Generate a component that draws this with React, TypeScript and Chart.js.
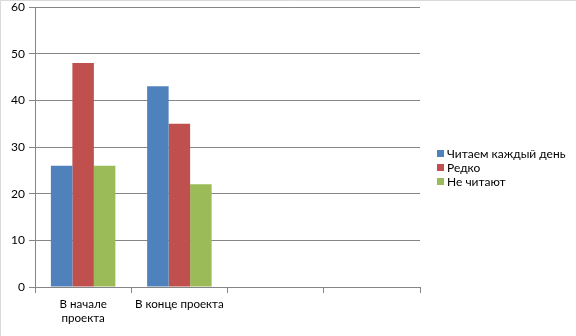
import React, { useEffect, useRef } from "react";
import { Chart, registerables } from "chart.js";

Chart.register(...registerables);

const categories: (string | string[])[] = [["В начале", "проекта"], "В конце проекта", "", ""];
const seriesNames = ["Читаем каждый день", "Редко", "Не читают"];
const dailyValues = [26, 43, null, null];
const rarelyValues = [48, 35, null, null];
const neverValues = [26, 22, null, null];
const seriesColors = ["#4F81BD", "#C0504D", "#9BBB59"];
const yTicks = { min: 0, max: 60, step: 10 };

const FONT = "Lato";
const GRID = "#868686";

const legendPlugin = {
  id: "customLegend",
  afterDraw(chart: any) {
    const ctx = chart.ctx;
    const ds = chart.data.datasets;
    const spacing = 14;
    const centerY = 167.5;
    const startY = centerY - ((ds.length - 1) * spacing) / 2;
    ctx.save();
    ctx.font = `12px ${FONT}`;
    ctx.textBaseline = "middle";
    ctx.textAlign = "left";
    ds.forEach((d: any, i: number) => {
      const y = startY + i * spacing;
      ctx.fillStyle = d.backgroundColor;
      ctx.fillRect(437, Math.round(y - 3.5), 7, 7);
      ctx.fillStyle = "#000";
      ctx.fillText(d.label, 447, y + 0.5);
    });
    ctx.restore();
  },
};

const borderPlugin = {
  id: "frame",
  beforeDraw(chart: any) {
    const ctx = chart.ctx;
    ctx.save();
    ctx.fillStyle = "#fff";
    ctx.fillRect(0, 0, chart.width, chart.height);
    ctx.strokeStyle = "#D9D9D9";
    ctx.lineWidth = 1;
    ctx.beginPath();
    ctx.moveTo(0.5, chart.height);
    ctx.lineTo(0.5, 0.5);
    ctx.lineTo(chart.width, 0.5);
    ctx.stroke();
    ctx.restore();
  },
};

export default function App() {
  const ref = useRef<HTMLCanvasElement>(null);
  useEffect(() => {
    document.body.style.margin = "0";
    const values = [dailyValues, rarelyValues, neverValues];
    const chart = new Chart(ref.current!, {
      type: "bar",
      data: {
        labels: categories,
        datasets: seriesNames.map((name, i) => ({
          label: name,
          data: values[i],
          backgroundColor: seriesColors[i],
          borderWidth: 0,
          barPercentage: 1,
          categoryPercentage: 0.67,
        })),
      },
      options: {
        animation: false,
        responsive: false,
        maintainAspectRatio: false,
        layout: { padding: { top: 7, right: 156, left: 0, bottom: 0 } },
        plugins: {
          legend: { display: false },
          tooltip: { enabled: false },
        },
        scales: {
          x: {
            grid: {
              display: true,
              drawOnChartArea: false,
              drawTicks: true,
              tickLength: 6,
              color: GRID,
              offset: true,
            },
            border: { display: true, color: GRID, width: 1 },
            ticks: {
              color: "#000",
              font: { family: FONT, size: 11.6 },
              maxRotation: 0,
              autoSkip: false,
              padding: 4,
            },
            afterFit: (scale: any) => {
              scale.height = 49;
            },
          },
          y: {
            min: yTicks.min,
            max: yTicks.max,
            grid: { color: GRID, tickLength: 6, drawTicks: true },
            border: { display: true, color: GRID, width: 1 },
            ticks: {
              stepSize: yTicks.step,
              color: "#000",
              font: { family: FONT, size: 12 },
              padding: 4,
            },
            afterFit: (scale: any) => {
              scale.width = 35;
              scale.paddingTop = 0;
              scale.paddingBottom = 0;
            },
          },
        },
      },
      plugins: [borderPlugin, legendPlugin],
    });
    return () => chart.destroy();
  }, []);
  return <canvas ref={ref} width={576} height={336} style={{ display: "block" }} />;
}
